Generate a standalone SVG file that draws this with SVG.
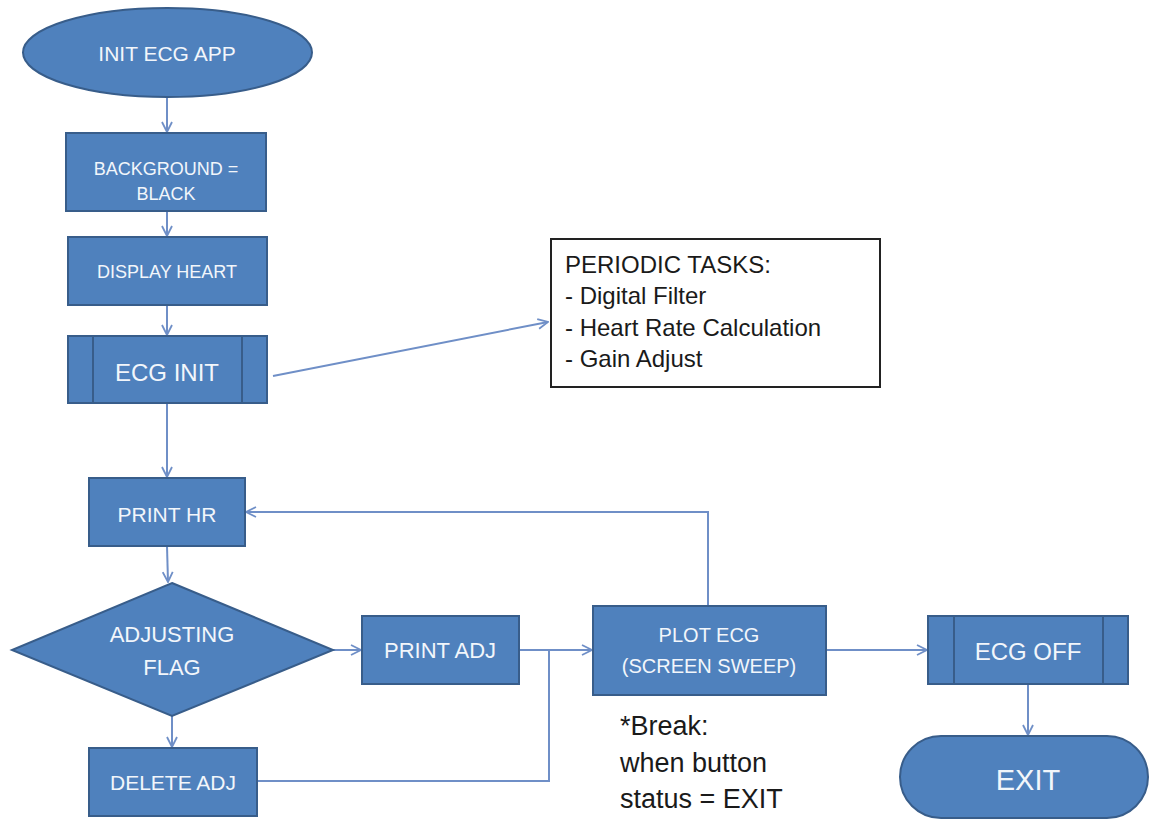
<svg xmlns="http://www.w3.org/2000/svg" width="1151" height="822" viewBox="0 0 1151 822">
  <style>
    .node { fill: #4F81BD; stroke: #385D8A; stroke-width: 2; }
    .inner { fill: none; stroke: #385D8A; stroke-width: 2; }
    .lbl { font-family: "Liberation Sans", Arial, sans-serif; fill: #F2F6FB; text-anchor: middle; }
    .note { font-family: "Liberation Sans", Arial, sans-serif; fill: #1A1A1A; }
    .conn { fill: none; stroke: #6F8FC7; stroke-width: 2; }
  </style>
  <defs>
    <marker id="arr" viewBox="0 0 12 12" refX="11" refY="6" markerWidth="12" markerHeight="12" markerUnits="userSpaceOnUse" orient="auto">
      <path d="M1,1 L11,6 L1,11" fill="none" stroke="#6F8FC7" stroke-width="1.8"/>
    </marker>
  </defs>
  <rect width="1151" height="822" fill="#FFFFFF"/>

  <g id="connectors">
    <line class="conn" x1="167" y1="97" x2="167" y2="132" marker-end="url(#arr)"/>
    <line class="conn" x1="167" y1="211" x2="167" y2="236" marker-end="url(#arr)"/>
    <line class="conn" x1="167" y1="305" x2="167" y2="335" marker-end="url(#arr)"/>
    <line class="conn" x1="273" y1="376" x2="548" y2="322" marker-end="url(#arr)"/>
    <line class="conn" x1="167" y1="403" x2="167" y2="477" marker-end="url(#arr)"/>
    <line class="conn" x1="167" y1="546" x2="168" y2="582" marker-end="url(#arr)"/>
    <line class="conn" x1="172" y1="716" x2="172" y2="747" marker-end="url(#arr)"/>
    <line class="conn" x1="333" y1="650" x2="361" y2="650" marker-end="url(#arr)"/>
    <line class="conn" x1="519" y1="650" x2="592" y2="650" marker-end="url(#arr)"/>
    <polyline class="conn" points="257,781 549,781 549,650"/>
    <polyline class="conn" points="708,606 708,512 246,512" marker-end="url(#arr)"/>
    <line class="conn" x1="826" y1="650" x2="927" y2="650" marker-end="url(#arr)"/>
    <line class="conn" x1="1028" y1="684" x2="1028" y2="735" marker-end="url(#arr)"/>
  </g>

  <g id="init-ecg-app">
    <ellipse class="node" cx="167.5" cy="52.5" rx="144.5" ry="44.5"/>
    <text class="lbl" x="167" y="61" font-size="21">INIT ECG APP</text>
  </g>

  <g id="background-black">
    <rect class="node" x="66" y="133" width="200" height="78"/>
    <text class="lbl" x="166" y="175" font-size="18">BACKGROUND =</text>
    <text class="lbl" x="166" y="200" font-size="18">BLACK</text>
  </g>

  <g id="display-heart">
    <rect class="node" x="68" y="237" width="199" height="68"/>
    <text class="lbl" x="167" y="278" font-size="18">DISPLAY HEART</text>
  </g>

  <g id="ecg-init">
    <rect class="node" x="68" y="336" width="199" height="67"/>
    <line class="inner" x1="93" y1="336" x2="93" y2="403"/>
    <line class="inner" x1="242" y1="336" x2="242" y2="403"/>
    <text class="lbl" x="167" y="381" font-size="24">ECG INIT</text>
  </g>

  <g id="periodic-tasks">
    <rect x="551" y="239" width="329" height="148" fill="#FFFFFF" stroke="#222222" stroke-width="2"/>
    <text class="note" x="565" y="273" font-size="24">PERIODIC TASKS:</text>
    <text class="note" x="565" y="304" font-size="24">- Digital Filter</text>
    <text class="note" x="565" y="336" font-size="24">- Heart Rate Calculation</text>
    <text class="note" x="565" y="367" font-size="24">- Gain Adjust</text>
  </g>

  <g id="print-hr">
    <rect class="node" x="89" y="478" width="156" height="68"/>
    <text class="lbl" x="167" y="522" font-size="21">PRINT HR</text>
  </g>

  <g id="adjusting-flag">
    <polygon class="node" points="172,583 333,650 172,716 12,650"/>
    <text class="lbl" x="172" y="642" font-size="22">ADJUSTING</text>
    <text class="lbl" x="172" y="675" font-size="22">FLAG</text>
  </g>

  <g id="print-adj">
    <rect class="node" x="362" y="616" width="157" height="68"/>
    <text class="lbl" x="440" y="658" font-size="22">PRINT ADJ</text>
  </g>

  <g id="delete-adj">
    <rect class="node" x="89" y="748" width="168" height="68"/>
    <text class="lbl" x="173" y="790" font-size="21">DELETE ADJ</text>
  </g>

  <g id="plot-ecg">
    <rect class="node" x="593" y="606" width="233" height="89"/>
    <text class="lbl" x="709" y="642" font-size="20">PLOT ECG</text>
    <text class="lbl" x="709" y="673" font-size="20">(SCREEN SWEEP)</text>
  </g>

  <g id="break-note">
    <text class="note" x="620" y="735" font-size="27">*Break:</text>
    <text class="note" x="620" y="772" font-size="27">when button</text>
    <text class="note" x="620" y="808" font-size="27">status = EXIT</text>
  </g>

  <g id="ecg-off">
    <rect class="node" x="928" y="616" width="200" height="68"/>
    <line class="inner" x1="954" y1="616" x2="954" y2="684"/>
    <line class="inner" x1="1103" y1="616" x2="1103" y2="684"/>
    <text class="lbl" x="1028" y="660" font-size="24">ECG OFF</text>
  </g>

  <g id="exit">
    <rect class="node" x="900" y="736" width="248" height="82" rx="41" ry="41"/>
    <text class="lbl" x="1028" y="790" font-size="29">EXIT</text>
  </g>
</svg>
